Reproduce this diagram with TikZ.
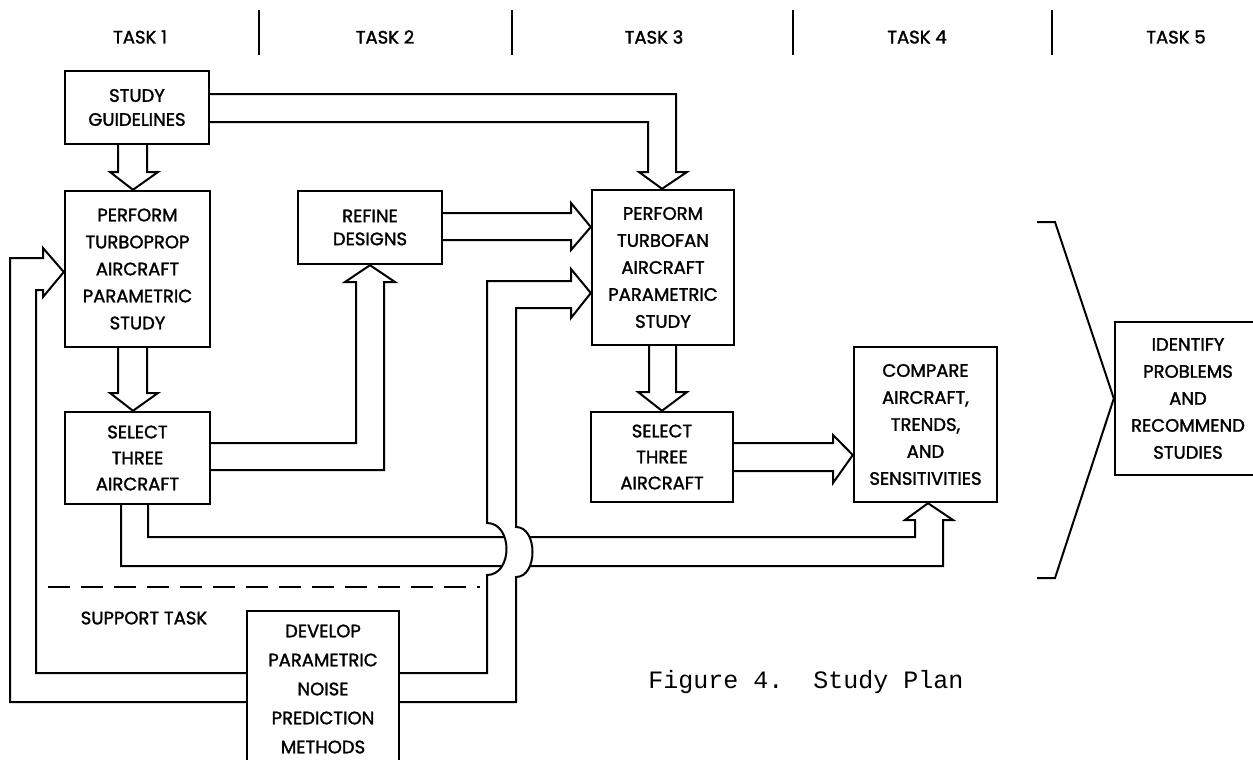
\documentclass[tikz,border=0pt]{standalone}
\usepackage{fontspec}
\setmainfont{Poppins}[FakeBold=1.6]
\newfontfamily\capfont{Liberation Mono}

\tikzset{
  blk/.style={draw, line width=1.2pt, align=center, inner sep=0pt,
    font=\fontsize{9}{13.5}\selectfont},
  pipe/.style={line width=1pt, line join=miter},
  lbl/.style={font=\fontsize{9}{11}\selectfont},
}

\begin{document}
\begin{tikzpicture}[x=0.5pt, y=-0.5pt]
  \useasboundingbox (0,0) rectangle (1253,760);
  \clip (0,0) rectangle (1253,760);

  % task columns
  \foreach \x/\n in {140/1,385/2,654/3,917/4,1176/5}
    \node[lbl] (task\n) at (\x,37) {TASK \n};
  \foreach \x in {259,512,793,1052}
    \draw[line width=1.1pt] (\x,10) -- (\x,55);

  % blocks
  \node[blk, minimum width=72pt, minimum height=36.5pt,
    font=\fontsize{9}{12}\selectfont] (sg) at (137,107.5) {STUDY\\GUIDELINES};
  \node[blk, minimum width=72.5pt, minimum height=78pt] (tp) at (137.5,269)
    {PERFORM\\TURBOPROP\\AIRCRAFT\\PARAMETRIC\\STUDY};
  \node[blk, minimum width=72.5pt, minimum height=46pt,
    font=\fontsize{9}{13}\selectfont] (sel1) at (137.5,458) {SELECT\\THREE\\AIRCRAFT};
  \node[blk, minimum width=72pt, minimum height=36.5pt,
    font=\fontsize{9}{11.5}\selectfont] (rd) at (370,227.5) {REFINE\\DESIGNS};
  \node[blk, minimum width=71pt, minimum height=77.5pt] (tf) at (663,267.5)
    {PERFORM\\TURBOFAN\\AIRCRAFT\\PARAMETRIC\\STUDY};
  \node[blk, minimum width=71pt, minimum height=45pt,
    font=\fontsize{9}{13}\selectfont] (sel2) at (662,457) {SELECT\\THREE\\AIRCRAFT};
  \node[blk, minimum width=71.5pt, minimum height=77.5pt] (cmp) at (925.5,424.5)
    {COMPARE\\AIRCRAFT,\\TRENDS,\\AND\\SENSITIVITIES};
  \node[blk, minimum width=73pt, minimum height=76.5pt] (idf) at (1188,398.5)
    {IDENTIFY\\PROBLEMS\\AND\\RECOMMEND\\STUDIES};
  \node[blk, minimum width=76pt, minimum height=78pt,
    font=\fontsize{9}{14.5}\selectfont] (dev) at (323,689)
    {DEVELOP\\PARAMETRIC\\NOISE\\PREDICTION\\METHODS};

  % guidelines -> turboprop
  \draw[pipe] (sg.south -| 118,0) -- (118,172) -- (110,172) -- (tp.north -| 133,0)
    -- (158,172) -- (147,172) -- (sg.south -| 147,0);
  % turboprop -> select
  \draw[pipe] (tp.south -| 118,0) -- (118,393) -- (110,393) -- (sel1.north -| 133,0)
    -- (158,393) -- (147,393) -- (tp.south -| 147,0);
  % guidelines -> turbofan
  \draw[pipe] (sg.east |- 0,94) -- (676,94) -- (676,172) -- (687,172)
    -- (tf.north -| 662,0) -- (639,172) -- (648,172) -- (648,122) -- (sg.east |- 0,122);
  % refine -> turbofan
  \draw[pipe] (rd.east |- 0,213) -- (571,213) -- (571,203) -- (tf.west |- 0,227)
    -- (571,250) -- (571,240) -- (rd.east |- 0,240);
  % select -> refine
  \draw[pipe] (sel1.east |- 0,443) -- (356,443) -- (356,282) -- (345,282)
    -- (rd.south -| 370,0) -- (395,282) -- (384,282) -- (384,470) -- (sel1.east |- 0,470);
  % turbofan -> select
  \draw[pipe] (tf.south -| 649,0) -- (649,392) -- (638,392) -- (sel2.north -| 662,0)
    -- (687,392) -- (676,392) -- (tf.south -| 676,0);
  % select -> compare
  \draw[pipe] (sel2.east |- 0,443) -- (833,443) -- (833,435) -- (cmp.west |- 0,455)
    -- (833,483) -- (833,471) -- (sel2.east |- 0,471);
  % select (task 1) -> compare
  \draw[pipe] (sel1.south -| 148,0) -- (148,537) -- (915,537) -- (915,520) -- (905,520)
    -- (cmp.south -| 928,0) -- (953,520) -- (943,520) -- (943,566) -- (121,566)
    -- (sel1.south -| 121,0);

  % bridge over the crossing
  \fill[white] (487,575) .. controls (513,575) and (513,523) .. (487,523) -- (516,527)
    .. controls (538,527) and (538,577) .. (516,577) -- cycle;

  % noise -> turbofan
  \draw[pipe] (dev.east |- 0,673) -- (487,673) -- (487,575)
    .. controls (513,575) and (513,523) .. (487,523) -- (487,281) -- (571,281)
    -- (571,269) -- (tf.west |- 0,293) -- (571,318) -- (571,308) -- (516,308)
    -- (516,527) .. controls (538,527) and (538,577) .. (516,577) -- (516,702)
    -- (dev.east |- 0,702);
  % noise -> turboprop
  \draw[pipe] (dev.west |- 0,673) -- (36,673) -- (36,290) -- (43,290) -- (43,297)
    -- (tp.west |- 0,272) -- (43,248) -- (43,258) -- (10,258) -- (10,702)
    -- (dev.west |- 0,702);

  % support task
  \draw[pipe, dash pattern=on 11pt off 5.5pt] (48,587) -- (480,587);
  \node[lbl] (sup) at (144,618) {SUPPORT TASK};

  % bracket to task 5
  \coordinate (brt) at (1037,222);
  \coordinate (brb) at (1037,578);
  \draw[pipe] (brt) -- (1055,222) -- (idf.west) -- (1055,578) -- (brb);

  \node[font=\capfont\fontsize{12.5}{14}\selectfont, anchor=west, inner sep=0pt]
    (cap) at (648,682) {Figure~4.~~Study Plan};
\end{tikzpicture}
\end{document}
